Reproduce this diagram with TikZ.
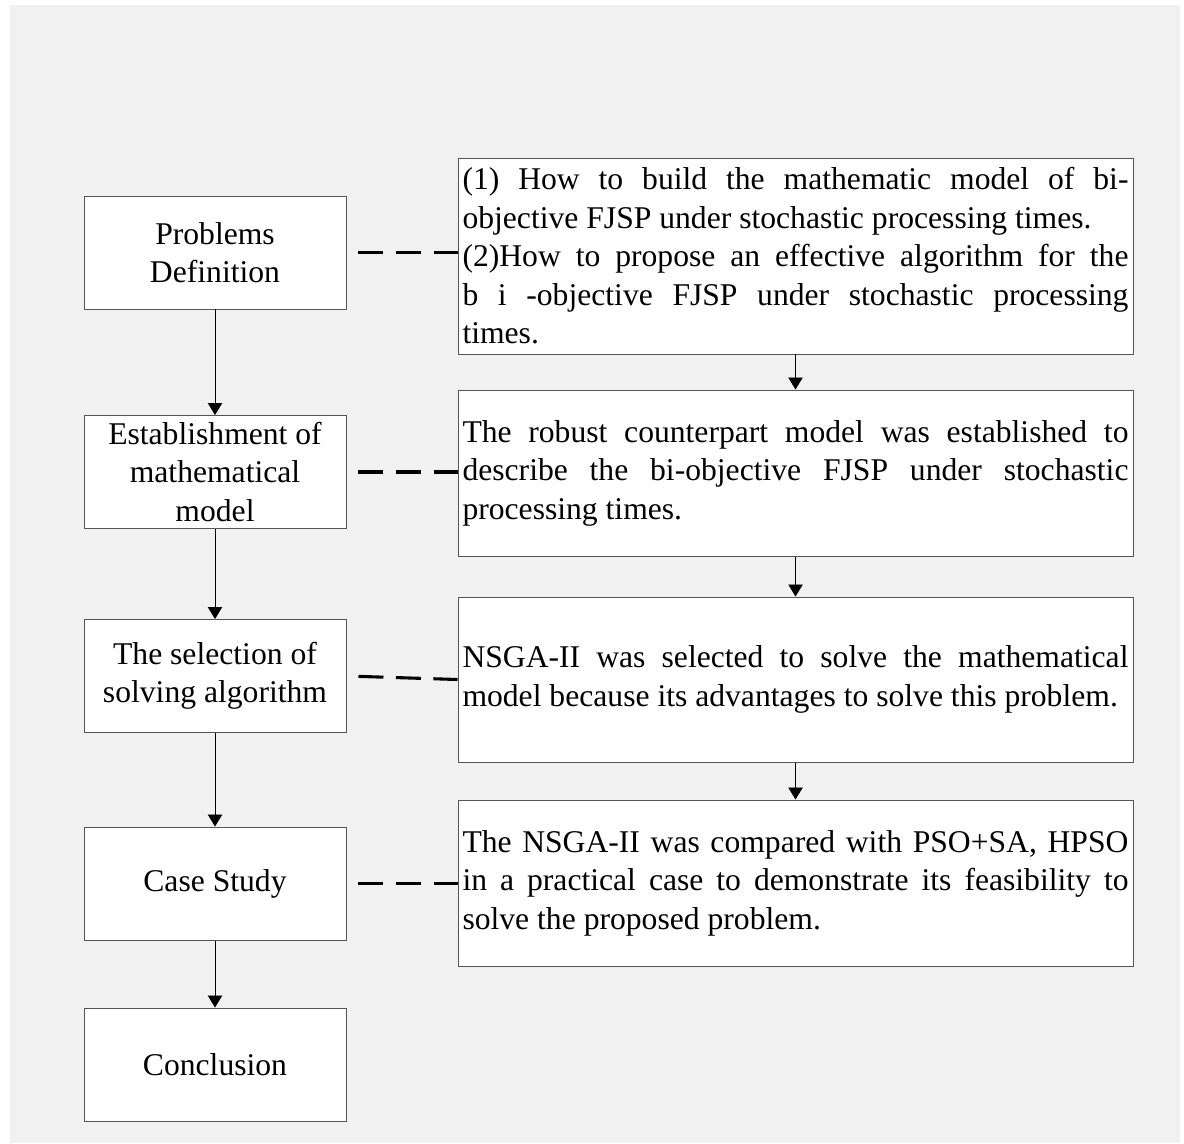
\documentclass[tikz,border=0pt]{standalone}
\usepackage{fontspec}
\setmainfont{Liberation Serif}
\usepackage[svgnames]{xcolor}
\usepackage{tikz}
\usetikzlibrary{arrows.meta}
\definecolor{PaperGrey}{HTML}{F1F1F1}
\definecolor{EdgeGrey}{HTML}{555555}
\setlength{\parindent}{0pt}
\tolerance=9999
\hyphenpenalty=10000
\exhyphenpenalty=10000
\tikzstyle{stage}=[draw=EdgeGrey,fill=white,line width=0.7pt,minimum width=6.55cm,minimum height=2.825cm,inner sep=0pt,align=center,font=\fontsize{22.5}{27.4}\selectfont]
\tikzstyle{detail}=[draw=EdgeGrey,fill=white,line width=0.7pt,text width=16.65cm,inner xsep=0.1125cm,inner ysep=0pt,align=justify,font=\fontsize{22.5}{27.4}\selectfont]
\tikzstyle{arrow}=[-{Triangle[length=0.3cm,width=0.36cm]},draw=Black,line width=0.6pt]
\tikzstyle{link}=[-,draw=Black,line width=2.2pt,dash pattern=on 0.625cm off 0.3125cm,shorten <=0.3cm]

\begin{document}
\begin{tikzpicture}
  \useasboundingbox (0, 0) rectangle (29.6, -28.575);
  \fill [PaperGrey] (0.25, -0.125) rectangle (29.5, -28.575);
  \node [style=stage] (0) at (5.375, -6.3125) {Problems\\Definition};
  \node [style=stage] (1) at (5.375, -11.8) {Establishment of\\mathematical\\model};
  \node [style=stage] (2) at (5.375, -16.9) {The selection of\\solving algorithm};
  \node [style=stage] (3) at (5.375, -22.0875) {Case Study};
  \node [style=stage] (4) at (5.375, -26.6125) {Conclusion};
  \node [style=detail, minimum height=4.9cm] (5) at (19.8875, -6.4) {(1) How to build the mathematic model of bi-\linebreak objective FJSP under stochastic processing times.\par (2)How to propose an effective algorithm for the\linebreak b i -objective FJSP under stochastic processing\linebreak times.};
  \node [style=detail, minimum height=4.15cm] (6) at (19.8875, -11.825) {The robust counterpart model was established to\linebreak describe the bi-objective FJSP under stochastic\linebreak processing times.};
  \node [style=detail, minimum height=4.125cm] (7) at (19.8875, -16.9875) {NSGA-II was selected to solve the mathematical\linebreak model because its advantages to solve this problem.};
  \node [style=detail, minimum height=4.15cm] (8) at (19.8875, -22.075) {The NSGA-II was compared with PSO+SA, HPSO\linebreak in a practical case to demonstrate its feasibility to\linebreak solve the proposed problem.};
  \draw [style=arrow] (0) to (1);
  \draw [style=arrow] (1) to (2);
  \draw [style=arrow] (2) to (3);
  \draw [style=arrow] (3) to (4);
  \draw [style=arrow] (5) to (6);
  \draw [style=arrow] (6) to (7);
  \draw [style=arrow] (7) to (8);
  \draw [style=link] (0.east) to (0.east -| 5.west);
  \draw [style=link] (1.east) to (1.east -| 6.west);
  \draw [style=link] (2.east) to (7.west);
  \draw [style=link] (3.east) to (3.east -| 8.west);
\end{tikzpicture}
\end{document}
